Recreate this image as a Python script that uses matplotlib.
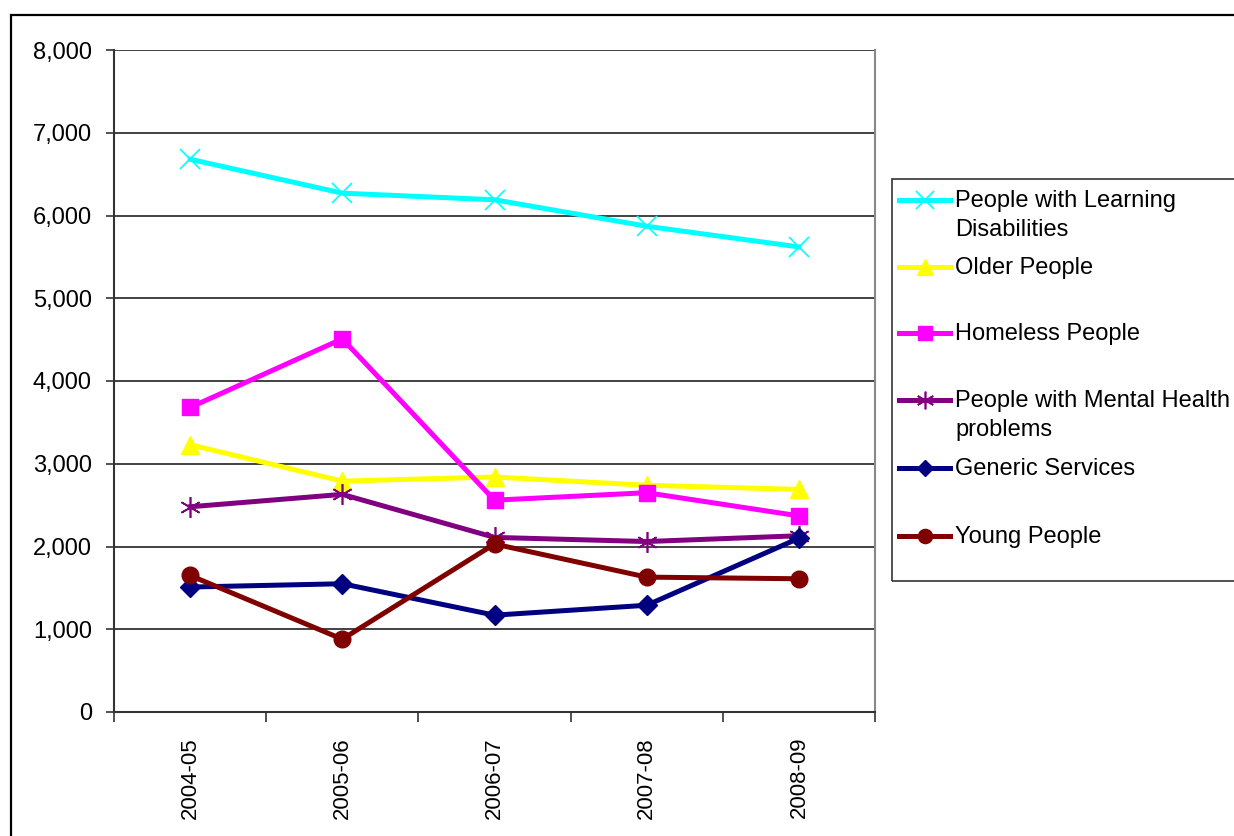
import matplotlib
matplotlib.use('Agg')
import matplotlib.pyplot as plt
from matplotlib.lines import Line2D
from matplotlib.patches import Rectangle
from matplotlib.ticker import FuncFormatter, FixedLocator

plt.rcParams['font.family'] = ['Liberation Sans', 'DejaVu Sans']

years = ['2004-05', '2005-06', '2006-07', '2007-08', '2008-09']
learning = [6680, 6270, 6190, 5870, 5620]
older = [3230, 2790, 2840, 2740, 2690]
homeless = [3680, 4510, 2560, 2650, 2370]
mental = [2480, 2630, 2110, 2060, 2130]
generic = [1510, 1550, 1170, 1290, 2100]
young = [1650, 880, 2030, 1630, 1610]

labels = ['People with Learning\nDisabilities', 'Older People', 'Homeless People',
          'People with Mental Health\nproblems', 'Generic Services', 'Young People']
series = [learning, older, homeless, mental, generic, young]
colors = ['#00FFFF', '#FFFF00', '#FF00FF', '#800080', '#000080', '#800000']
markers = ['x', '^', 's', (6, 2, 0), 'D', 'o']
msizes = [15, 13, 12, 15, 10, 12]
mews = [1.2, 1, 1, 1.2, 1, 1]

W, H = 1234, 836
fig = plt.figure(figsize=(W / 100, H / 100), dpi=100)
ax = fig.add_axes([114 / W, 1 - 712 / H, (875 - 114) / W, (712 - 50) / H])

x = list(range(len(years)))
for vals, c, m, ms, mew in zip(series, colors, markers, msizes, mews):
    ax.plot(x, vals, color=c, lw=3.6, marker=m, ms=ms, mew=mew,
            mec=c, mfc=c, clip_on=False, zorder=3)

ax.set_xlim(-0.5, 4.5)
ax.set_ylim(0, 8000)
ax.set_yticks(range(0, 8001, 1000))
ax.yaxis.set_major_formatter(FuncFormatter(lambda v, p: f'{int(v):,}'))
ax.yaxis.grid(True, color='#333333', lw=1.3)
ax.set_axisbelow(True)

ax.xaxis.set_major_locator(FixedLocator(x))
ax.set_xticklabels(years, rotation=90, fontsize=16)
ax.tick_params(axis='x', which='major', length=0, pad=18)
ax.xaxis.set_minor_locator(FixedLocator([i - 0.5 for i in range(6)]))
ax.tick_params(axis='x', which='minor', length=7, width=1.2, color='#333333', direction='out')
ax.tick_params(axis='y', length=6, width=1.2, color='#333333', labelsize=17, pad=10)

ax.spines['left'].set_color('#333333')
ax.spines['left'].set_linewidth(1.5)
ax.spines['bottom'].set_color('#333333')
ax.spines['bottom'].set_linewidth(1.5)
ax.spines['right'].set_color('#888888')
ax.spines['right'].set_linewidth(1.5)
ax.spines['top'].set_visible(False)

# outer chart frame
fig.add_artist(Rectangle((11 / W, -0.1), 1.2, 1.1 - 15 / H, transform=fig.transFigure,
                         fill=False, ec='black', lw=1.6))

# legend box (drawn by hand, runs off the right edge like the original)
fig.add_artist(Rectangle((892 / W, 1 - 581 / H), 400 / W, (581 - 179) / H,
                         transform=fig.transFigure, fill=False, ec='#333333', lw=1.2))
rows = [200, 267, 333, 400, 468, 536]
for lab, c, m, ms, mew, yy in zip(labels, colors, markers, msizes, mews, rows):
    yf = 1 - yy / H
    fig.add_artist(Line2D([899 / W, 950 / W], [yf, yf], transform=fig.transFigure,
                          color=c, lw=3.6))
    fig.add_artist(Line2D([925 / W], [yf], transform=fig.transFigure, color=c,
                          marker=m, ms=ms * 0.85, mew=mew, mec=c, mfc=c))
    for i, part in enumerate(lab.split('\n')):
        fig.text(955 / W, 1 - (yy + 1 + i * 29) / H, part, fontsize=17,
                 va='center', ha='left')

fig.savefig('out.png', dpi=100)
